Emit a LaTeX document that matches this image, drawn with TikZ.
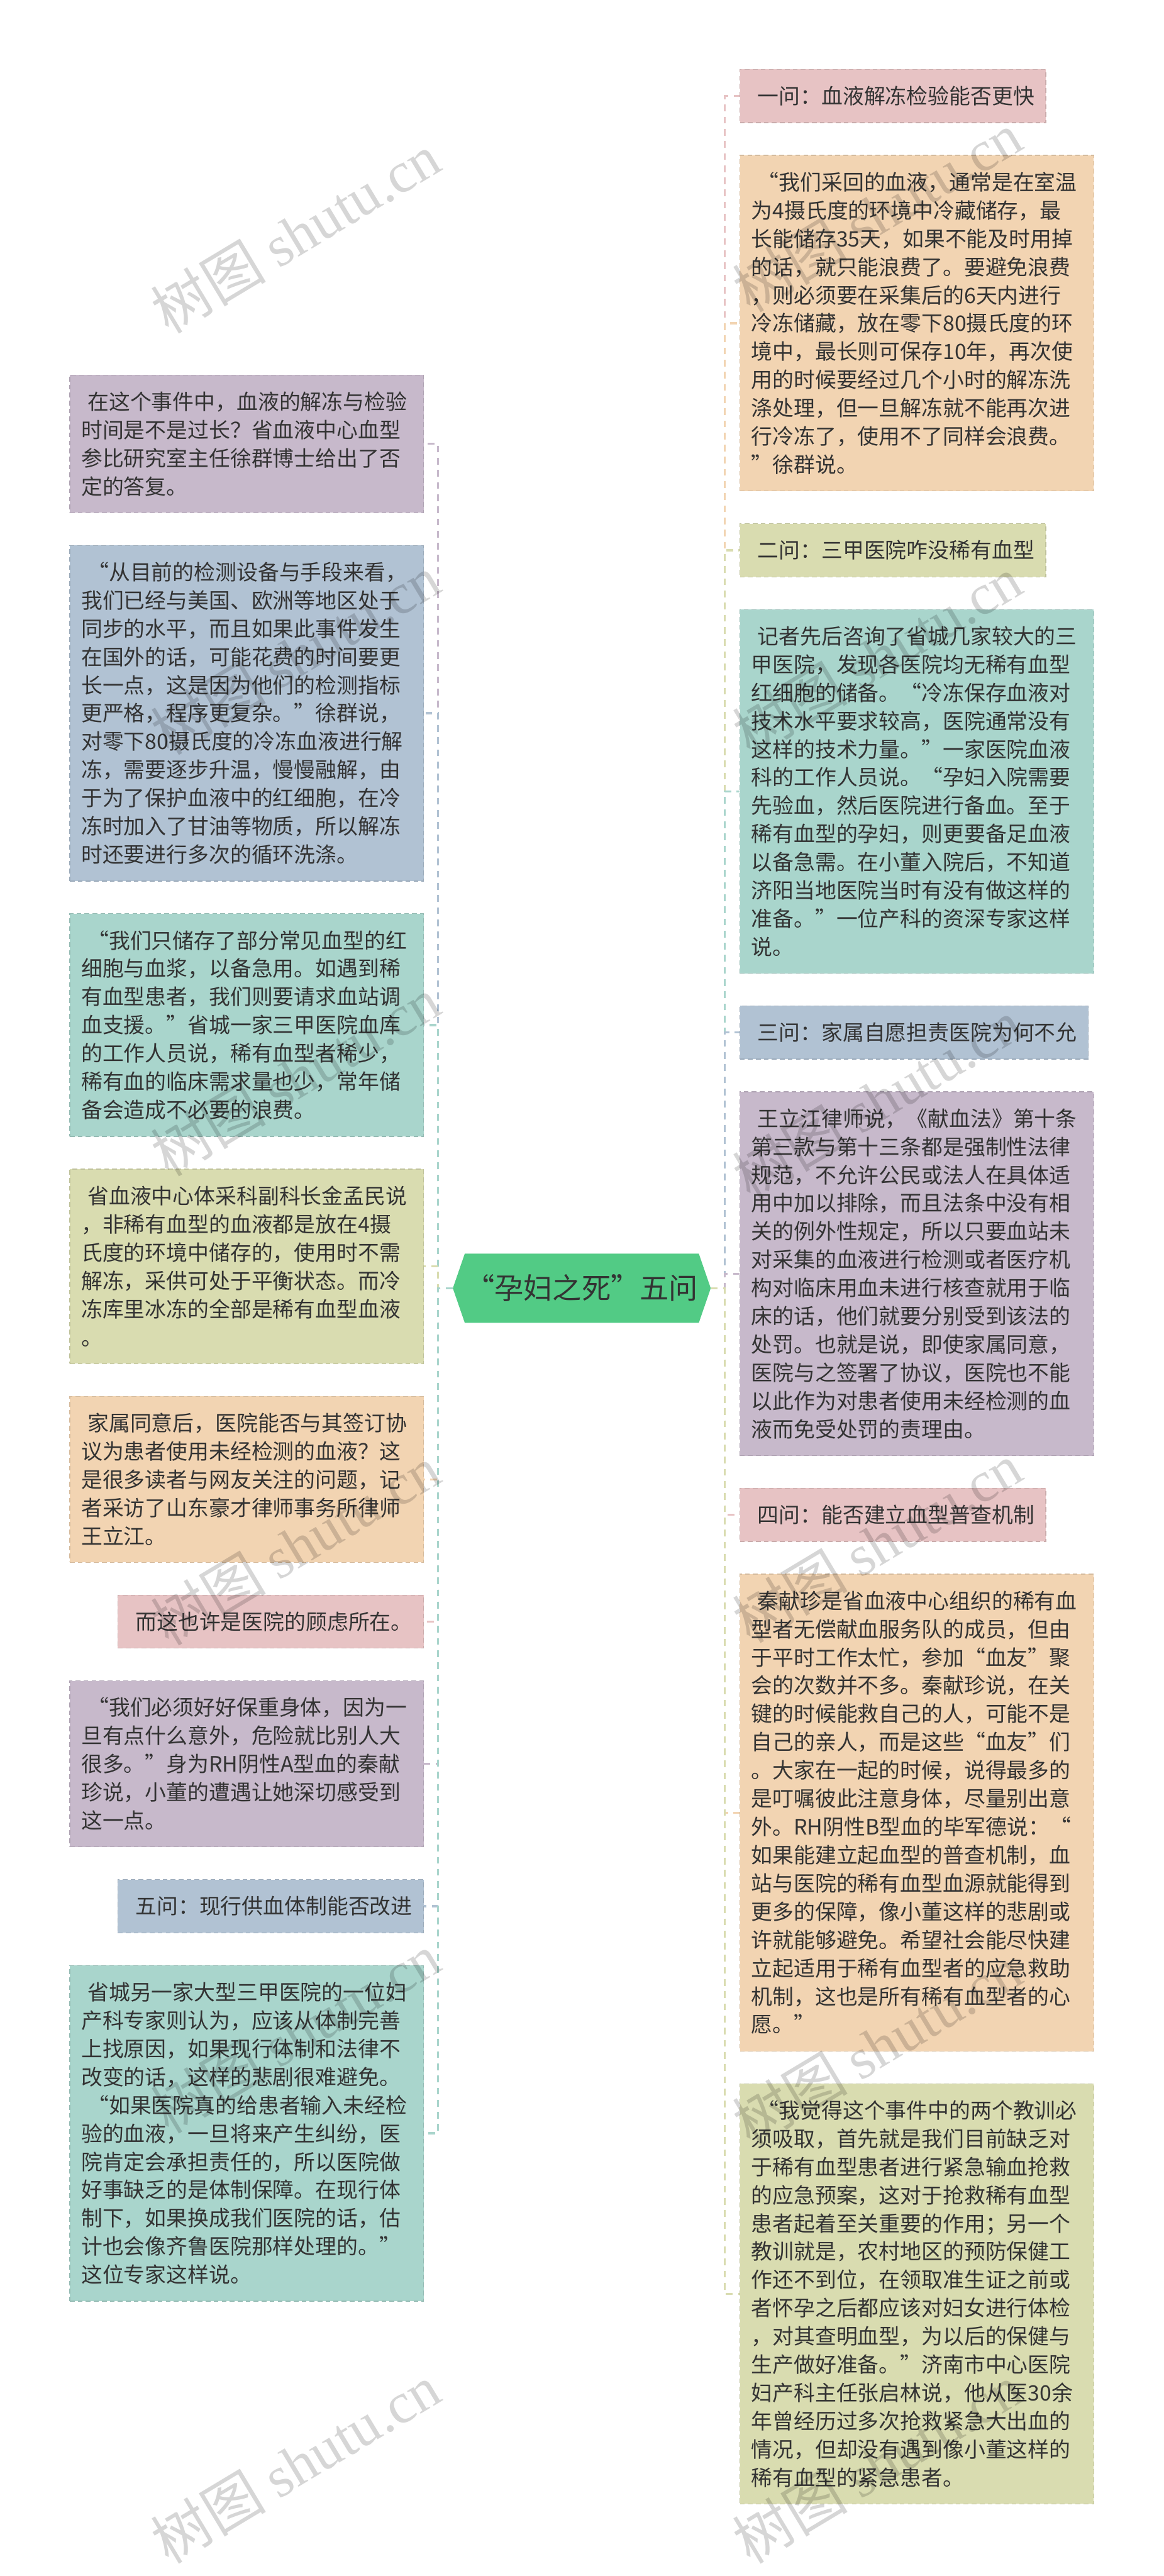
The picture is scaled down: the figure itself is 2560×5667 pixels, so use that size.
\documentclass[tikz,border=0pt]{standalone}
\usepackage{fontspec}
\setmainfont{Noto Sans CJK SC}
\newfontfamily\wmserif{Liberation Serif}
\usetikzlibrary{shapes.symbols}
\definecolor{cpink}{HTML}{E7C3C4}
\definecolor{cpeach}{HTML}{F2D4B2}
\definecolor{colive}{HTML}{D9DCB0}
\definecolor{cteal}{HTML}{A9D5CC}
\definecolor{cblue}{HTML}{B1C2D3}
\definecolor{cpurple}{HTML}{C7B9CB}
\definecolor{cgreen}{HTML}{52CB85}
\definecolor{ctext}{HTML}{333333}
\newcommand{\bodyfont}{\fontsize{13.32pt}{17.67pt}\selectfont}
\newcommand{\rootfont}{\fontsize{18.2pt}{22pt}\selectfont}
\newcommand{\wmfont}{\fontsize{36pt}{40pt}\selectfont}
\newcommand{\ind}{\hspace*{0.3em}}
\tikzset{
  box/.style={fill=#1, draw=#1!88!black, line width=0.5pt, dash pattern=on 3pt off 2pt,
    inner xsep=0.25cm, inner ysep=0.1cm, align=left, text=ctext, font=\bodyfont},
  tbox/.style={box=#1, text width=7.28cm},
  hbox/.style={box=#1},
  lft/.style={anchor=north east},
  rgt/.style={anchor=north west},
  conn/.style={draw=#1, line width=1.3pt, dash pattern=on 4.2pt off 3.4pt},
  wm/.style={text=black, text opacity=0.16, font=\wmfont, rotate=31, inner sep=0pt},
}
\begin{document}
\begin{tikzpicture}[x=0.01cm, y=-0.01cm]
\fill[white] (0,0) rectangle (2560,5667);
\useasboundingbox (0,0) rectangle (2560,5667);

% root
\node[signal, signal to=east and west, signal pointer angle=142, fill=cgreen, draw=none,
  minimum width=5.67cm, minimum height=1.52cm, inner sep=0pt, text=ctext, font=\rootfont]
  (root) at (1280,2834) {“孕妇之死”五问};

% right column
\node[hbox=cpink, rgt, minimum height=1.17cm] (R1) at (1627,152) {\ind 一问：血液解冻检验能否更快};
\node[tbox=cpeach, rgt, minimum height=7.38cm] (R2) at (1627,341) {\ind “我们采回的血液，通常是在室温\\为4摄氏度的环境中冷藏储存，最\\长能储存35天，如果不能及时用掉\\的话，就只能浪费了。要避免浪费\\，则必须要在采集后的6天内进行\\冷冻储藏，放在零下80摄氏度的环\\境中，最长则可保存10年，再次使\\用的时候要经过几个小时的解冻洗\\涤处理，但一旦解冻就不能再次进\\行冷冻了，使用不了同样会浪费。\\”徐群说。};
\node[hbox=colive, rgt, minimum height=1.17cm] (R3) at (1627,1151) {\ind 二问：三甲医院咋没稀有血型};
\node[tbox=cteal, rgt, minimum height=8.00cm] (R4) at (1627,1340) {\ind 记者先后咨询了省城几家较大的三\\甲医院，发现各医院均无稀有血型\\红细胞的储备。“冷冻保存血液对\\技术水平要求较高，医院通常没有\\这样的技术力量。”一家医院血液\\科的工作人员说。“孕妇入院需要\\先验血，然后医院进行备血。至于\\稀有血型的孕妇，则更要备足血液\\以备急需。在小董入院后，不知道\\济阳当地医院当时有没有做这样的\\准备。”一位产科的资深专家这样\\说。};
\node[hbox=cblue, rgt, minimum height=1.17cm] (R5) at (1627,2212) {\ind 三问：家属自愿担责医院为何不允};
\node[tbox=cpurple, rgt, minimum height=8.00cm] (R6) at (1627,2401) {\ind 王立江律师说，《献血法》第十条\\第三款与第十三条都是强制性法律\\规范，不允许公民或法人在具体适\\用中加以排除，而且法条中没有相\\关的例外性规定，所以只要血站未\\对采集的血液进行检测或者医疗机\\构对临床用血未进行核查就用于临\\床的话，他们就要分别受到该法的\\处罚。也就是说，即使家属同意，\\医院与之签署了协议，医院也不能\\以此作为对患者使用未经检测的血\\液而免受处罚的责理由。};
\node[hbox=cpink, rgt, minimum height=1.17cm] (R7) at (1627,3273) {\ind 四问：能否建立血型普查机制};
\node[tbox=cpeach, rgt, minimum height=10.49cm] (R8) at (1627,3462) {\ind 秦献珍是省血液中心组织的稀有血\\型者无偿献血服务队的成员，但由\\于平时工作太忙，参加“血友”聚\\会的次数并不多。秦献珍说，在关\\键的时候能救自己的人，可能不是\\自己的亲人，而是这些“血友”们\\。大家在一起的时候，说得最多的\\是叮嘱彼此注意身体，尽量别出意\\外。RH阴性B型血的毕军德说：“\\如果能建立起血型的普查机制，血\\站与医院的稀有血型血源就能得到\\更多的保障，像小董这样的悲剧或\\许就能够避免。希望社会能尽快建\\立起适用于稀有血型者的应急救助\\机制，这也是所有稀有血型者的心\\愿。”};
\node[tbox=colive, rgt, minimum height=9.24cm] (R9) at (1627,4583) {\ind “我觉得这个事件中的两个教训必\\须吸取，首先就是我们目前缺乏对\\于稀有血型患者进行紧急输血抢救\\的应急预案，这对于抢救稀有血型\\患者起着至关重要的作用；另一个\\教训就是，农村地区的预防保健工\\作还不到位，在领取准生证之前或\\者怀孕之后都应该对妇女进行体检\\，对其查明血型，为以后的保健与\\生产做好准备。”济南市中心医院\\妇产科主任张启林说，他从医30余\\年曾经历过多次抢救紧急大出血的\\情况，但却没有遇到像小董这样的\\稀有血型的紧急患者。};

% left column
\node[tbox=cpurple, lft, minimum height=3.03cm] (L1) at (933,824) {\ind 在这个事件中，血液的解冻与检验\\时间是不是过长？省血液中心血型\\参比研究室主任徐群博士给出了否\\定的答复。};
\node[tbox=cblue, lft, minimum height=7.38cm] (L2) at (933,1199) {\ind “从目前的检测设备与手段来看，\\我们已经与美国、欧洲等地区处于\\同步的水平，而且如果此事件发生\\在国外的话，可能花费的时间要更\\长一点，这是因为他们的检测指标\\更严格，程序更复杂。”徐群说，\\对零下80摄氏度的冷冻血液进行解\\冻，需要逐步升温，慢慢融解，由\\于为了保护血液中的红细胞，在冷\\冻时加入了甘油等物质，所以解冻\\时还要进行多次的循环洗涤。};
\node[tbox=cteal, lft, minimum height=4.90cm] (L3) at (933,2009) {\ind “我们只储存了部分常见血型的红\\细胞与血浆，以备急用。如遇到稀\\有血型患者，我们则要请求血站调\\血支援。”省城一家三甲医院血库\\的工作人员说，稀有血型者稀少，\\稀有血的临床需求量也少，常年储\\备会造成不必要的浪费。};
\node[tbox=colive, lft, minimum height=4.28cm] (L4) at (933,2571) {\ind 省血液中心体采科副科长金孟民说\\，非稀有血型的血液都是放在4摄\\氏度的环境中储存的，使用时不需\\解冻，采供可处于平衡状态。而冷\\冻库里冰冻的全部是稀有血型血液\\。};
\node[tbox=cpeach, lft, minimum height=3.65cm] (L5) at (933,3071) {\ind 家属同意后，医院能否与其签订协\\议为患者使用未经检测的血液？这\\是很多读者与网友关注的问题，记\\者采访了山东豪才律师事务所律师\\王立江。};
\node[hbox=cpink, lft, minimum height=1.17cm] (L6) at (933,3508) {\ind 而这也许是医院的顾虑所在。};
\node[tbox=cpurple, lft, minimum height=3.65cm] (L7) at (933,3697) {\ind “我们必须好好保重身体，因为一\\旦有点什么意外，危险就比别人大\\很多。”身为RH阴性A型血的秦献\\珍说，小董的遭遇让她深切感受到\\这一点。};
\node[hbox=cblue, lft, minimum height=1.17cm] (L8) at (933,4134) {\ind 五问：现行供血体制能否改进};
\node[tbox=cteal, lft, minimum height=7.38cm] (L9) at (933,4323) {\ind 省城另一家大型三甲医院的一位妇\\产科专家则认为，应该从体制完善\\上找原因，如果现行体制和法律不\\改变的话，这样的悲剧很难避免。\\\ind “如果医院真的给患者输入未经检\\验的血液，一旦将来产生纠纷，医\\院肯定会承担责任的，所以医院做\\好事缺乏的是体制保障。在现行体\\制下，如果换成我们医院的话，估\\计也会像齐鲁医院那样处理的。”\\这位专家这样说。};

% connectors left
\draw[conn=cpurple] (root.west) -- ++(-32,0) |- (L1.east);
\draw[conn=cblue]   (root.west) -- ++(-32,0) |- (L2.east);
\draw[conn=cteal]   (root.west) -- ++(-32,0) |- (L3.east);
\draw[conn=colive]  (root.west) -- ++(-32,0) |- (L4.east);
\draw[conn=cpeach]  (root.west) -- ++(-32,0) |- (L5.east);
\draw[conn=cpink]   (root.west) -- ++(-32,0) |- (L6.east);
\draw[conn=cpurple] (root.west) -- ++(-32,0) |- (L7.east);
\draw[conn=cblue]   (root.west) -- ++(-32,0) |- (L8.east);
\draw[conn=cteal]   (root.west) -- ++(-32,0) |- (L9.east);
% connectors right
\draw[conn=cpink]   (root.east) -- ++(30,0) |- (R1.west);
\draw[conn=cpeach]  (root.east) -- ++(30,0) |- (R2.west);
\draw[conn=colive]  (root.east) -- ++(30,0) |- (R3.west);
\draw[conn=cteal]   (root.east) -- ++(30,0) |- (R4.west);
\draw[conn=cblue]   (root.east) -- ++(30,0) |- (R5.west);
\draw[conn=cpurple] (root.east) -- ++(30,0) |- (R6.west);
\draw[conn=cpink]   (root.east) -- ++(30,0) |- (R7.west);
\draw[conn=cpeach]  (root.east) -- ++(30,0) |- (R8.west);
\draw[conn=colive]  (root.east) -- ++(30,0) |- (R9.west);

% watermarks
\foreach \i/\wx/\wy in {1/650/513, 2/650/1440, 3/650/2368, 4/650/3399, 5/650/4473, 6/650/5420,
                        7/1930/466, 8/1930/1442, 9/1930/2418, 10/1930/3394, 11/1930/4500, 12/1930/5420}
  \node[wm] (wm\i) at (\wx,\wy) {树图 {\wmserif shutu.cn}};
\end{tikzpicture}
\end{document}
